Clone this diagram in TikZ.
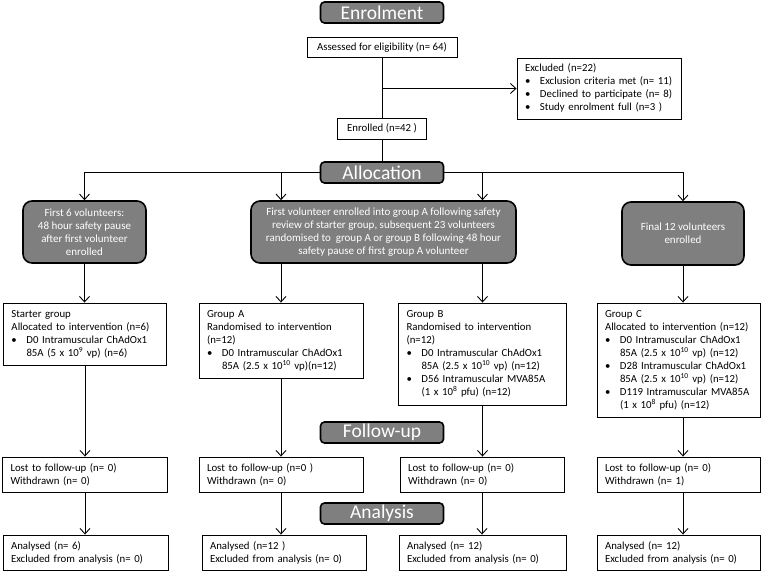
\documentclass[tikz,border=0pt]{standalone}
\usepackage{fontspec}
\setmainfont{Carlito}
\usetikzlibrary{arrows.meta}
\definecolor{boxgrey}{RGB}{127,127,127}
% list lines: full-width heading rows and bullet rows
\newcommand{\hd}[1]{\multicolumn{2}{@{}l@{}}{#1}}
\newcommand{\bl}{\textbullet}
\newenvironment{blist}{\begin{tabular}{@{}p{15pt}@{}l@{}}}{\end{tabular}}

\begin{document}
\begin{tikzpicture}[x=1pt, y=-1pt, line width=0.9pt,
  >={Straight Barb[length=5.5pt,width=10pt]},
  phase/.style={draw, line width=1.6pt, fill=boxgrey, rounded corners=4pt, text=white,
    font=\fontsize{19.5}{21}\selectfont, minimum width=123pt, minimum height=21pt, inner sep=0pt},
  stage/.style={draw, line width=1.6pt, fill=boxgrey, rounded corners=9pt, text=white,
    align=center, font=\fontsize{11}{13}\selectfont, minimum height=62pt, inner sep=0pt},
  info/.style={draw, fill=white, align=left, font=\fontsize{10.8}{13}\selectfont,
    inner xsep=8pt, inner ysep=0pt}]
 \useasboundingbox (0,0) rectangle (765,571);

    %Enrolment
    \node[phase] (enrol) at (382,12.5) {Enrolment};
    \node[info, minimum width=150pt, minimum height=20pt] (assess) at (382,47.5) {Assessed for eligibility (n= 64)};
    \node[info, text width=148pt, minimum height=61pt] (excl) at (599,88.5)
      {\begin{blist}\hd{Excluded (n=22)}\\ \bl & Exclusion criteria met (n= 11)\\ \bl & Declined to participate (n= 8)\\ \bl & Study enrolment full (n=3 )\end{blist}};
    \node[info, minimum width=89pt, minimum height=21pt] (enrolled) at (382,128.5) {Enrolled (n=42 )};
    \draw (assess) -- (enrolled);
    \coordinate (split) at (assess.south |- excl.west);
    \draw[->] (split) -- (excl.west);

    %Allocation
    \node[phase] (alloc) at (382,172.5) {Allocation};
    \node[stage, minimum width=123pt] (first6) at (84.5,232)
      {First 6 volunteers:\\48 hour safety pause\\after first volunteer\\enrolled};
    \node[stage, minimum width=265pt] (mid) at (383.5,232)
      {First volunteer enrolled into group A following safety\\review of starter group, subsequent 23 volunteers\\randomised to~ group A or group B following 48 hour\\safety pause of first group A volunteer};
    \node[stage, minimum width=122pt, minimum height=63pt] (final) at (683,233.5)
      {Final 12 volunteers\\enrolled};
    \draw (enrolled) -- (alloc);

    \node[info, text width=147pt, minimum height=62pt] (starter) at (85,334)
      {\begin{blist}\hd{Starter group}\\ \hd{Allocated to intervention (n=6)}\\
       \bl & D0 Intramuscular ChAdOx1\\ & 85A (5 x 10\textsuperscript{9} vp) (n=6)\end{blist}};
    \node[info, text width=148pt, minimum height=75pt] (grpA) at (281,340.5)
      {\begin{blist}\hd{Group A}\\ \hd{Randomised to intervention}\\ \hd{(n=12)}\\
       \bl & D0 Intramuscular ChAdOx1\\ & 85A (2.5 x 10\textsuperscript{10} vp)(n=12)\end{blist}};
    \node[info, text width=152pt, minimum height=102pt] (grpB) at (482.5,354)
      {\begin{blist}\hd{Group B}\\ \hd{Randomised to intervention}\\ \hd{(n=12)}\\
       \bl & D0 Intramuscular ChAdOx1\\ & 85A (2.5 x 10\textsuperscript{10} vp) (n=12)\\
       \bl & D56 Intramuscular MVA85A\\ & (1 x 10\textsuperscript{8} pfu) (n=12)\end{blist}};
    \node[info, text width=147pt, minimum height=114pt] (grpC) at (678.5,360)
      {\begin{blist}\hd{Group C}\\ \hd{Allocated to intervention (n=12)}\\
       \bl & D0 Intramuscular ChAdOx1\\ & 85A (2.5 x 10\textsuperscript{10} vp) (n=12)\\
       \bl & D28 Intramuscular ChAdOx1\\ & 85A (2.5 x 10\textsuperscript{10} vp) (n=12)\\
       \bl & D119 Intramuscular MVA85A\\ & (1 x 10\textsuperscript{8} pfu) (n=12)\end{blist}};

    \draw[->] (alloc.west) -| (first6.north);
    \draw[->] (alloc.west) -| (grpA.north |- mid.north);
    \draw[->] (alloc.east) -| (grpB.north |- mid.north);
    \draw[->] (alloc.east) -| (final.north);
    \draw[->] (first6.south) -- (first6.south |- starter.north);
    \draw[->] (grpA.north |- mid.south) -- (grpA.north);
    \draw[->] (grpB.north |- mid.south) -- (grpB.north);
    \draw[->] (final.south) -- (final.south |- grpC.north);

    %Follow-up
    \node[phase] (follow) at (382,432.5) {Follow-up};
    \node[info, text width=149pt, minimum height=35pt] (lostS) at (85,474.5) {Lost to follow-up (n= 0)\\Withdrawn (n= 0)};
    \node[info, text width=148pt, minimum height=35pt] (lostA) at (281,474.5) {Lost to follow-up (n=0 )\\Withdrawn (n= 0)};
    \node[info, text width=148pt, minimum height=35pt] (lostB) at (482,474.5) {Lost to follow-up (n= 0)\\Withdrawn (n= 0)};
    \node[info, text width=147pt, minimum height=35pt] (lostC) at (678.5,474.5) {Lost to follow-up (n= 0)\\Withdrawn (n= 1)};
    \draw[->] (starter) -- (lostS);
    \draw[->] (grpA) -- (lostA);
    \draw[->] (grpB.south) -- (grpB.south |- lostB.north);
    \draw[->] (final.south |- grpC.south) -- (final.south |- lostC.north);

    %Analysis
    \node[phase] (analysis) at (382,513.5) {Analysis};
    \node[info, text width=149pt, minimum height=35pt] (anaS) at (85.5,552.5) {Analysed (n= 6)\\Excluded from analysis (n= 0)};
    \node[info, text width=148pt, minimum height=35pt] (anaA) at (284,552.5) {Analysed (n=12 )\\Excluded from analysis (n= 0)};
    \node[info, text width=151pt, minimum height=35pt] (anaB) at (482.5,552.5) {Analysed (n= 12)\\Excluded from analysis (n= 0)};
    \node[info, text width=147pt, minimum height=35pt] (anaC) at (678.5,552.5) {Analysed (n= 12)\\Excluded from analysis (n= 0)};
    \draw[->] (lostS.south) -- (lostS.south |- anaS.north);
    \draw[->] (lostA.south) -- (lostA.south |- anaA.north);
    \draw[->] (lostB.south) -- (lostB.south |- anaB.north);
    \draw[->] (final.south |- lostC.south) -- (final.south |- anaC.north);
\end{tikzpicture}
\end{document}
